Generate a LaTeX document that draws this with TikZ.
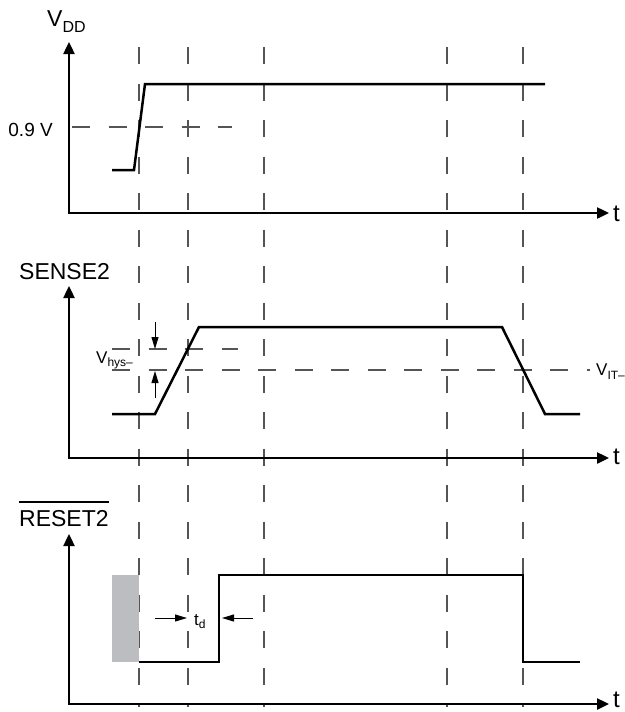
\documentclass[tikz,border=0pt]{standalone}
\usepackage{fontspec}
\setmainfont{Liberation Sans}
\usetikzlibrary{arrows.meta}
\definecolor{boxgray}{HTML}{BCBDC1}
\definecolor{guidegray}{HTML}{555555}
\begin{document}
\begin{tikzpicture}[x=1pt,y=-1pt,
  axisline/.style={line width=2.4pt, line join=miter,
    {Triangle[length=12pt,width=11pt]}-{Triangle[length=12pt,width=11pt]}},
  sig/.style={line width=2.5pt, line join=miter},
  vguide/.style={line width=1.1pt, draw=guidegray, dash pattern=on 17pt off 19.5pt},
  hguide/.style={line width=1.1pt, draw=guidegray, dash pattern=on 18pt off 18.5pt},
  marker/.style={line width=1pt, -{Triangle[length=12pt,width=7pt]}},
  biglbl/.style={inner sep=0pt, font=\fontsize{23}{27}\selectfont},
  tlbl/.style={inner sep=0pt, font=\fontsize{24}{28}\selectfont},
  midlbl/.style={inner sep=0pt, font=\fontsize{19}{22}\selectfont},
  smllbl/.style={inner sep=0pt, font=\fontsize{17}{20}\selectfont}]
\useasboundingbox (0,0) rectangle (624,712);

% vertical dashed guides
\foreach \x/\n in {139/ga,188/gb,264/gc,447/gd,523/ge}{
  \coordinate (\n top) at (\x,47);
  \coordinate (\n bot) at (\x,707);
  \draw[vguide] (\n top) -- (\n bot);
}

% ---------------- VDD panel ----------------
\coordinate (ya) at (69,42);
\coordinate (oa) at (69,213);
\coordinate (xa) at (609,213);
\draw[axisline] (ya) -- (oa) -- (xa);
\node[tlbl, anchor=base west] (ta) at (613,221) {t};
\node[biglbl, anchor=base west] (vdd) at (47,26)
  {V\raisebox{-6pt}{\fontsize{16}{18}\selectfont DD}};
\node[midlbl, anchor=base east] (l09) at (53,136) {0.9 V};
\coordinate (h09a) at (72,127);
\coordinate (h09b) at (232,127);
\draw[hguide] (h09a) -- (h09b);
\coordinate (sa1) at (112,170);
\coordinate (sa2) at (134,170);
\coordinate (sa3) at (145,84);
\coordinate (sa4) at (545,84);
\draw[sig] (sa1) -- (sa2) -- (sa3) -- (sa4);

% ---------------- SENSE2 panel ----------------
\coordinate (yb) at (69,286);
\coordinate (ob) at (69,458);
\coordinate (xb) at (609,458);
\draw[axisline] (yb) -- (ob) -- (xb);
\node[tlbl, anchor=base west] (tb) at (613,464) {t};
\node[biglbl, anchor=base west] (sense) at (19,279) {SENSE2};
\coordinate (vita) at (112,370);
\coordinate (vitb) at (590,370);
\draw[hguide] (vita) -- (vitb);
\coordinate (vhya) at (112,349);
\coordinate (vhyb) at (238,349);
\draw[hguide] (vhya) -- (vhyb);
\node[smllbl, anchor=base west] (vit) at (596,375)
  {V\raisebox{-4pt}{\fontsize{12}{14}\selectfont IT–}};
\node[smllbl, anchor=base west] (vhys) at (96,363)
  {V\raisebox{-3pt}{\fontsize{12}{14}\selectfont hys–}};
\coordinate (ar1) at (155,322);
\coordinate (ar1t) at (155,349);
\coordinate (ar2) at (155,398);
\coordinate (ar2t) at (155,371);
\draw[marker] (ar1) -- (ar1t);
\draw[marker] (ar2) -- (ar2t);
\coordinate (sb1) at (112,414);
\coordinate (sb2) at (155,414);
\coordinate (sb3) at (199,327);
\coordinate (sb4) at (502,327);
\coordinate (sb5) at (545,414);
\coordinate (sb6) at (580,414);
\draw[sig] (sb1) -- (sb2) -- (sb3) -- (sb4) -- (sb5) -- (sb6);

% ---------------- RESET2 panel ----------------
\coordinate (yc) at (69,534);
\coordinate (oc) at (69,704);
\coordinate (xc) at (609,704);
\draw[axisline] (yc) -- (oc) -- (xc);
\node[tlbl, anchor=base west] (tc) at (613,707) {t};
\node[biglbl, anchor=base west] (rst) at (19,526) {RESET2};
\draw[line width=2pt] ([yshift=8pt]rst.north west) -- ([yshift=8pt]rst.north east);
\fill[boxgray] (112,575) rectangle (139,662);
\coordinate (sc1) at (139,662);
\coordinate (sc2) at (219,662);
\coordinate (sc3) at (219,575);
\coordinate (sc4) at (523,575);
\coordinate (sc5) at (523,662);
\coordinate (sc6) at (580,662);
\draw[sig] (sc1) -- (sc2) -- (sc3) -- (sc4) -- (sc5) -- (sc6);
\coordinate (td1) at (155,618);
\coordinate (td1t) at (187,618);
\coordinate (td2) at (253,618);
\coordinate (td2t) at (222,618);
\draw[marker] (td1) -- (td1t);
\draw[marker] (td2) -- (td2t);
\node[smllbl, anchor=base west] (td) at (194,625)
  {t\raisebox{-3pt}{\fontsize{12}{14}\selectfont d}};
\end{tikzpicture}
\end{document}
